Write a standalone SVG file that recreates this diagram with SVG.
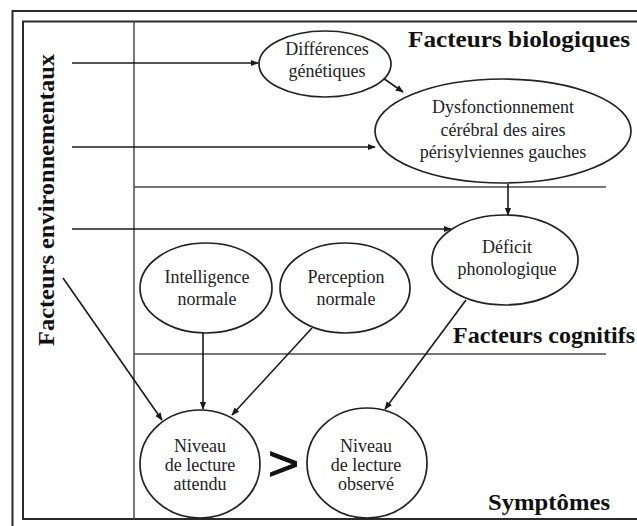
<svg xmlns="http://www.w3.org/2000/svg" width="637" height="526" viewBox="0 0 637 526">
<defs>
<marker id="ah" viewBox="0 0 10 10" refX="9" refY="5" markerWidth="8" markerHeight="8" markerUnits="userSpaceOnUse" orient="auto">
<path d="M0,1 L10,5 L0,9 Z" fill="#1a1a1a"/>
</marker>
</defs>
<style>
.frame{fill:none;stroke:#2a2a2a;stroke-width:2}
.sep{fill:none;stroke:#4a4a4a;stroke-width:1.5}
.node{fill:#fff;stroke:#222;stroke-width:1.7}
.lbl{font-family:"Liberation Serif","Times New Roman",serif;font-size:18px;fill:#222;text-anchor:middle}
.head{font-family:"Liberation Serif","Times New Roman",serif;font-size:23px;font-weight:bold;fill:#111}
.conn line{stroke:#1a1a1a;stroke-width:1.6;marker-end:url(#ah)}
</style>
<rect width="637" height="526" fill="#fff"/>
<g id="frame">
<rect class="frame" x="12.5" y="11" width="640" height="530"/>
<rect class="frame" x="23" y="21.5" width="630" height="497.5"/>
<line class="sep" x1="134" y1="21" x2="134" y2="519"/>
<line class="sep" x1="134" y1="187" x2="606" y2="187"/>
<line class="sep" x1="134" y1="354" x2="606" y2="354"/>
</g>
<g id="headings">
<text class="head" x="408" y="47" textLength="222" lengthAdjust="spacingAndGlyphs">Facteurs biologiques</text>
<text class="head" x="453" y="343" textLength="182" lengthAdjust="spacingAndGlyphs">Facteurs cognitifs</text>
<text class="head" x="488" y="510" textLength="122" lengthAdjust="spacingAndGlyphs">Symptômes</text>
<text class="head" transform="translate(54,200) rotate(-90)" text-anchor="middle" textLength="292" lengthAdjust="spacingAndGlyphs">Facteurs environnementaux</text>
</g>
<g id="connectors" class="conn">
<line x1="72" y1="63" x2="258" y2="63"/>
<line x1="72" y1="147" x2="375" y2="147"/>
<line x1="72" y1="229" x2="451" y2="229"/>
<line x1="383" y1="78" x2="403" y2="92"/>
<line x1="508" y1="184" x2="508" y2="215"/>
<line x1="63" y1="278" x2="162" y2="420"/>
<line x1="203" y1="333" x2="203" y2="409"/>
<line x1="312" y1="328" x2="232" y2="415"/>
<line x1="466" y1="300" x2="385" y2="409"/>
</g>
<g id="node-differences">
<ellipse class="node" cx="325" cy="64" rx="66" ry="33"/>
<text class="lbl" x="327" y="55">Différences</text>
<text class="lbl" x="327" y="77">génétiques</text>
</g>
<g id="node-dysfonctionnement">
<ellipse class="node" cx="503" cy="131" rx="128" ry="52"/>
<text class="lbl" x="503" y="113">Dysfonctionnement</text>
<text class="lbl" x="503" y="136">cérébral des aires</text>
<text class="lbl" x="503" y="158">périsylviennes gauches</text>
</g>
<g id="node-deficit">
<ellipse class="node" cx="505" cy="260" rx="73" ry="45"/>
<text class="lbl" x="507" y="253">Déficit</text>
<text class="lbl" x="507" y="275">phonologique</text>
</g>
<g id="node-intelligence">
<ellipse class="node" cx="206" cy="288" rx="66" ry="45"/>
<text class="lbl" x="207" y="283">Intelligence</text>
<text class="lbl" x="207" y="305">normale</text>
</g>
<g id="node-perception">
<ellipse class="node" cx="345" cy="288" rx="65" ry="45"/>
<text class="lbl" x="346" y="283">Perception</text>
<text class="lbl" x="346" y="305">normale</text>
</g>
<g id="node-attendu">
<ellipse class="node" cx="200" cy="464" rx="60" ry="54"/>
<text class="lbl" x="200" y="452">Niveau</text>
<text class="lbl" x="200" y="471">de lecture</text>
<text class="lbl" x="200" y="490">attendu</text>
</g>
<g id="node-observe">
<ellipse class="node" cx="367" cy="463" rx="60" ry="55"/>
<text class="lbl" x="366" y="452">Niveau</text>
<text class="lbl" x="366" y="471">de lecture</text>
<text class="lbl" x="366" y="490">observé</text>
</g>
<text x="268" y="480" textLength="31" lengthAdjust="spacingAndGlyphs" font-family="Liberation Sans, Arial, sans-serif" font-size="48" fill="#111" stroke="#111" stroke-width="1">&gt;</text>
</svg>
